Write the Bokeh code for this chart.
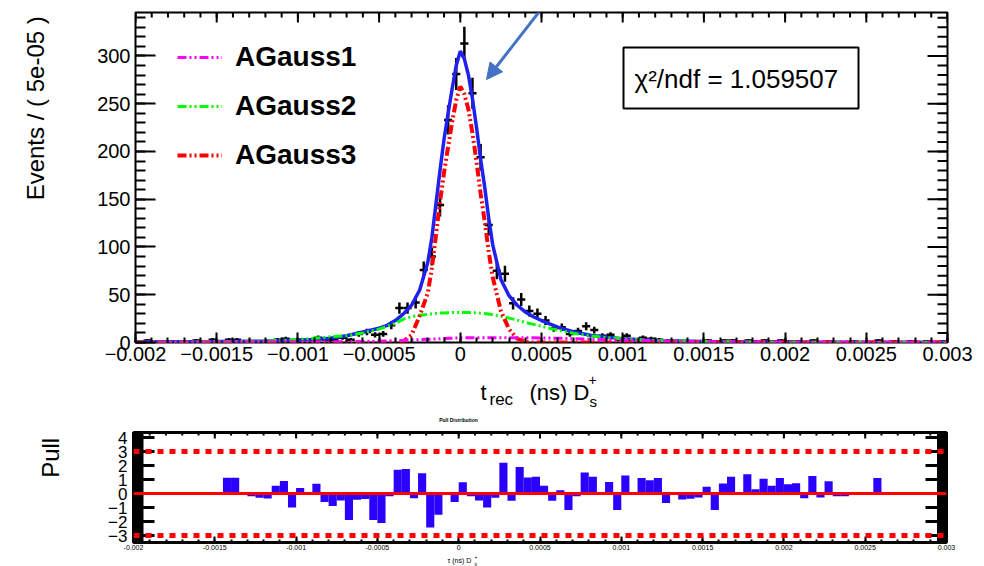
import math
from bokeh.plotting import figure
from bokeh.models import (Range1d, LinearAxis, FixedTicker, Label, BoxAnnotation,
                          Arrow, NormalHead, Span, Legend, LegendItem)
from bokeh.layouts import column, row
from bokeh.embed import file_html
from bokeh.resources import INLINE

FONT = "Liberation Sans"

# ---------------- data ----------------
bin_low = -0.002
bin_width = 5e-05

counts = [0, 2, 0, 1, 0, 1, 1, 2, 0, 3, 1,
          3, 3, 1, 1, 1, 1, 3, 4, 1, 3, 3, 5, 3, 3, 5, 3, 9, 11, 8, 9, 18, 36, 36, 42, 76, 90, 144, 233, 281,
          313, 261, 194, 123, 75, 72, 41, 45, 33, 30, 23, 15, 16, 9, 12, 17, 13, 7, 8, 3, 7, 3, 5, 4, 3, 1,
          1, 1, 1, 1, 2, 0, 2, 2, 1, 2, 1, 2, 1, 2, 1, 1, 0, 2, 0, 1, 0, 0, 1, 0, 0, 2,
          0, 1, 0, 1, 0, 1, 0, 1]

pulls = [0, 0, 0, 0, 0, 0, 0, 0, 0, 0, 0,
         1.12, 1.12, 0, -0.2, -0.3, -0.35, 0.55, 0.9, -1.0, 0.4, 0, 0.7, -0.6, -0.9, -0.5, -1.9, -0.45,
         -0.4, -1.9, -2.1, -0.2, 1.7, 1.76, -0.33, 1.45, -2.43, -1.52, 0, -0.6,
         0.8, -0.2, -0.5, -1.0, -0.3, 2.2, -0.52, 1.9, 1.14, 1.2, 0.55, -0.52, 0.24, -1.17, -0.2, 1.5,
         1.2, 0, 0.83, -1.17, 1.29, 0, 1.1, 0.95, 1.1, -0.67, 0, -0.43, -0.38, -0.29, 0.48, -1.17, 0.71,
         1.2, 0, 1.38, 0.31, 1.05, 0.55, 1.1, 0.67, 0.74, -0.33, 1.26, -0.29, 0.88, -0.19, -0.19, 0, 0,
         0, 1.1,
         0, 0, 0, 0, 0, 0, 0, 0]

# fit curves, x in units of 1e-4 ns
fit_x_e4 = [-20, -15, -12, -10, -9, -8, -7, -6, -5, -4.5, -4, -3.5, -3, -2.5, -2, -1.75, -1.5, -1.25,
            -1, -0.75, -0.5, -0.25, 0, 0.25, 0.5, 0.75, 1, 1.25, 1.5, 1.75, 2, 2.5, 3, 3.5, 4, 4.5,
            5, 6, 7, 8, 9, 10, 12, 15, 20, 25, 30]
total_fit = [0.5, 1, 1.5, 2.5, 3, 4.5, 7, 11, 15, 18, 23, 30, 39, 55, 84, 110, 145, 180,
             213, 240, 266, 290, 305, 297, 280, 255, 225, 192, 163, 130, 102, 66, 49, 39, 32, 27,
             23, 16, 11, 7.5, 5.5, 4, 2, 1, 0.5, 0.3, 0.2]
agauss1 = [0, 0.1, 0.2, 0.3, 0.4, 0.5, 0.7, 1, 1.3, 1.6, 2, 2.3, 2.7, 3, 3.4, 3.6, 3.8, 4,
           4.2, 4.4, 4.5, 4.7, 4.8, 4.9, 5, 5, 5, 5, 5, 5, 5, 5, 5, 5, 5, 4.9,
           4.8, 4.5, 4, 3.5, 3, 2.5, 1.6, 0.8, 0.3, 0.1, 0]
agauss2 = [0.3, 0.8, 1.5, 3, 4.5, 6, 7, 10, 14, 17, 20, 24.5, 27, 28.5, 29.5, 30, 30.5, 30.8,
           31, 31.2, 31.4, 31.5, 31.5, 31.5, 31.4, 31.2, 31, 30.7, 30.3, 29.8, 29, 27.5, 25.5, 23.5, 21, 19,
           17, 13, 9.5, 7, 5, 4, 2, 1, 0.3, 0.1, 0]
agauss3 = [0, 0, 0, 0, 0, 0, 0, 0, 0, 0, 0, 1, 8, 28, 52, 78, 112, 147,
           178, 205, 231, 254, 268, 260, 244, 219, 189, 156, 127, 95, 68, 33, 14, 4, 0.5, 0,
           0, 0, 0, 0, 0, 0, 0, 0, 0, 0, 0]

legend_names = ["AGauss1", "AGauss2", "AGauss3"]
chi2_text = "χ²/ndf = 1.059507"
y_title = "Events / ( 5e-05 )"
pull_y_title = "Pull"
pull_title = "Pull Distribution"

x_ticks = [-0.002, -0.0015, -0.001, -0.0005, 0, 0.0005, 0.001, 0.0015, 0.002, 0.0025, 0.003]
x_tick_labels = ["\u22120.002", "\u22120.0015", "\u22120.001", "\u22120.0005", "0", "0.0005",
                 "0.001", "0.0015", "0.002", "0.0025", "0.003"]
pull_x_tick_labels = ["-0.002", "-0.0015", "-0.001", "-0.0005", "0", "0.0005",
                      "0.001", "0.0015", "0.002", "0.0025", "0.003"]
y_ticks = [0, 50, 100, 150, 200, 250, 300]
pull_ticks = [-3, -2, -1, 0, 1, 2, 3, 4]
pull_tick_labels = ["\u22123", "\u22122", "\u22121", "0", "1", "2", "3", "4"]

# ---------------- page geometry (pixels) ----------------
W = 984
SIDE = 80                      # width of the strip holding the vertical titles
ROW1_H = 372                   # top plot row: y 0..372
XT1_H = 38                     # x title strip: y 372..410
PT_H = 17                      # pull title strip: y 410..427
ROW2_H = 126                   # pull row: y 427..553
XT2_H = 13                     # pull x title strip: y 553..566

L1, R1, T1, B1 = 135, 947, 12, 342
Y1MAX = 345.5
L2, R2, T2, B2 = 133, 946, 432, 542
Y2MIN, Y2MAX = -3.5, 4.36
ROW2_Y0 = ROW1_H + XT1_H + PT_H


def tx(px):
    return -0.002 + (px - L1) / (R1 - L1) * 0.005


def ty(py):
    return (B1 - py) / (B1 - T1) * Y1MAX


def bx(px):
    return -0.002 + (px - L2) / (R2 - L2) * 0.005


def text_fig(w, h):
    f = figure(width=w, height=h, x_range=Range1d(0, w), y_range=Range1d(h, 0),
               output_backend="svg", toolbar_location=None, x_axis_type=None, y_axis_type=None,
               min_border_left=0, min_border_right=0, min_border_top=0, min_border_bottom=0,
               title=None)
    f.outline_line_color = None
    return f


def txt(f, x, y, text, size, **kw):
    f.add_layout(Label(x=x, y=y, text=text, text_font=FONT, text_font_size=size,
                       text_color="black", **kw))


minor_x = [-0.002 + i * 0.0001 for i in range(51)]
minor_y = [i * 10 for i in range(35)]


def style_axis(ax, tin, minin, labsize):
    ax.major_tick_in = tin
    ax.major_tick_out = 0
    ax.minor_tick_in = minin
    ax.minor_tick_out = 0
    ax.major_tick_line_color = "black"
    ax.minor_tick_line_color = "black"
    ax.major_tick_line_width = 2
    ax.minor_tick_line_width = 2
    ax.axis_line_color = None
    ax.major_label_text_font = FONT
    ax.major_label_text_font_size = labsize
    ax.major_label_text_color = "black"


# ---------------- top figure ----------------
top = figure(width=W - SIDE, height=ROW1_H, x_range=Range1d(-0.002, 0.003),
             y_range=Range1d(0, Y1MAX), title=None,
             output_backend="svg", toolbar_location=None, x_axis_type=None, y_axis_type=None,
             min_border_left=L1 - SIDE, min_border_right=W - R1, min_border_top=T1,
             min_border_bottom=ROW1_H - B1)
top.outline_line_color = "black"
top.outline_line_width = 2
top.outline_line_alpha = 1

xb = LinearAxis(ticker=FixedTicker(ticks=x_ticks, minor_ticks=minor_x),
                major_label_overrides=dict(zip(x_ticks, x_tick_labels)))
style_axis(xb, 10, 5, "20px")
xb.major_label_standoff = 4
top.add_layout(xb, "below")

yl = LinearAxis(ticker=FixedTicker(ticks=y_ticks, minor_ticks=minor_y))
style_axis(yl, 20, 10, "20px")
yl.major_label_standoff = 5
top.add_layout(yl, "left")

# ticks on the top and right edges of the frame
dy1 = Y1MAX / (B1 - T1)
dx1 = 0.005 / (R1 - L1)
top.segment(x0=x_ticks, y0=Y1MAX, x1=x_ticks, y1=Y1MAX - 10 * dy1, line_color="black", line_width=2)
top.segment(x0=minor_x, y0=Y1MAX, x1=minor_x, y1=Y1MAX - 5 * dy1, line_color="black", line_width=2)
top.segment(x0=0.003, y0=y_ticks, x1=0.003 - 20 * dx1, y1=y_ticks, line_color="black", line_width=2)
top.segment(x0=0.003, y0=minor_y, x1=0.003 - 10 * dx1, y1=minor_y, line_color="black", line_width=2)

# data points
centers = [bin_low + (i + 0.5) * bin_width for i in range(len(counts))]
errs = [math.sqrt(n) for n in counts]
lo = [max(n - e, 0) for n, e in zip(counts, errs)]
hi = [n + e if n > 0 else 1.15 for n, e in zip(counts, errs)]
top.segment(x0=[c - bin_width / 2 for c in centers], y0=counts,
            x1=[c + bin_width / 2 for c in centers], y1=counts, line_color="black", line_width=2.5)
top.segment(x0=centers, y0=lo, x1=centers, y1=hi, line_color="black", line_width=2.5)

fx = [v * 1e-4 for v in fit_x_e4]
DASH = "9 3 2 3 2 3"
top.line(fx, total_fit, line_color="#2020f0", line_width=3.5)
r2 = top.line(fx, agauss2, line_color="#00ff00", line_width=3, line_dash=DASH)
r3 = top.line(fx, agauss3, line_color="#ff0000", line_width=4, line_dash=DASH)
r1 = top.line(fx, agauss1, line_color="#ff00ff", line_width=3, line_dash=DASH)

legend = Legend(items=[LegendItem(label=legend_names[0], renderers=[r1]),
                       LegendItem(label=legend_names[1], renderers=[r2]),
                       LegendItem(label=legend_names[2], renderers=[r3])],
                location=(42, 171), orientation="vertical",
                border_line_color=None, background_fill_alpha=0,
                label_text_font=FONT, label_text_font_size="28px", label_text_font_style="bold",
                label_text_color="black",
                glyph_width=45, glyph_height=28, label_height=28, label_standoff=13,
                spacing=17, padding=0, margin=0)
top.add_layout(legend)

# chi2 box
top.add_layout(BoxAnnotation(left=tx(623), right=tx(858), top=ty(47), bottom=ty(108),
                             fill_color="white", fill_alpha=1, line_color="black", line_alpha=1,
                             line_width=2))
top.add_layout(Label(x=tx(634), y=ty(78), text=chi2_text, text_font=FONT, text_font_size="26px",
                     text_baseline="middle", text_color="black"))

# arrow
top.add_layout(Arrow(x_start=tx(549), y_start=ty(-2), x_end=tx(486), y_end=ty(79),
                     line_color="#4472c4", line_width=3,
                     end=NormalHead(size=16, fill_color="#4472c4", line_color="#4472c4")))

# y title strip for the top plot
yt1 = text_fig(SIDE, ROW1_H)
txt(yt1, 35, 108, y_title, "24px", angle=math.pi / 2, text_align="center", text_baseline="middle")

# x title strip for the top plot (page y 372..410)
xt1 = text_fig(W, XT1_H)
y0 = ROW1_H
txt(xt1, 480, 392 - y0, "t", "22px", text_baseline="alphabetic")
txt(xt1, 489, 399 - y0, "rec", "17px", text_baseline="alphabetic")
txt(xt1, 529, 392 - y0, "(ns) D", "22px", text_baseline="alphabetic")
txt(xt1, 588, 379 - y0, "+", "14px", text_baseline="alphabetic")
txt(xt1, 589, 401 - y0, "s", "15px", text_baseline="alphabetic")

# pull title strip (page y 410..427)
pt = text_fig(W, PT_H)
txt(pt, 458, 419 - (ROW1_H + XT1_H), pull_title, "5px", text_font_style="bold",
    text_align="center", text_baseline="middle")

# ---------------- pull figure ----------------
bot = figure(width=W - SIDE, height=ROW2_H, x_range=Range1d(-0.002, 0.003),
             y_range=Range1d(Y2MIN, Y2MAX), title=None,
             output_backend="svg", toolbar_location=None, x_axis_type=None, y_axis_type=None,
             min_border_left=L2 - SIDE, min_border_right=W - R2, min_border_top=T2 - ROW2_Y0,
             min_border_bottom=ROW2_Y0 + ROW2_H - B2)
bot.outline_line_color = "black"
bot.outline_line_width = 3
bot.outline_line_alpha = 1

pb = LinearAxis(ticker=FixedTicker(ticks=x_ticks, minor_ticks=minor_x),
                major_label_overrides=dict(zip(x_ticks, pull_x_tick_labels)))
style_axis(pb, 6, 3, "7px")
pb.major_label_standoff = 2
bot.add_layout(pb, "below")

pl = LinearAxis(ticker=FixedTicker(ticks=pull_ticks, minor_ticks=[]),
                major_label_overrides=dict(zip(pull_ticks, pull_tick_labels)))
style_axis(pl, 21, 0, "17px")
pl.major_tick_line_width = 3
pl.major_label_standoff = 6
bot.add_layout(pl, "left")

dy2 = (Y2MAX - Y2MIN) / (B2 - T2)
dx2 = 0.005 / (R2 - L2)
bot.segment(x0=x_ticks, y0=Y2MAX, x1=x_ticks, y1=Y2MAX - 6 * dy2, line_color="black", line_width=2)
bot.segment(x0=minor_x, y0=Y2MAX, x1=minor_x, y1=Y2MAX - 3 * dy2, line_color="black", line_width=2)

# dark side bands of the pull frame
bot.add_layout(BoxAnnotation(left=-0.002, right=bx(143), fill_color="black", fill_alpha=1,
                             line_color=None))
bot.add_layout(BoxAnnotation(left=bx(936.5), right=0.003, fill_color="black", fill_alpha=1,
                             line_color=None))
bot.segment(x0=0.003, y0=pull_ticks, x1=0.003 - 21 * dx2, y1=pull_ticks, line_color="black",
            line_width=3)

bot.vbar(x=centers, width=bin_width, top=pulls, bottom=0, fill_color="#2a00ff", line_color=None)

bot.add_layout(Span(location=0, dimension="width", line_color="#ff0000", line_width=3))
bot.add_layout(Span(location=3, dimension="width", line_color="#ff0000", line_width=5,
                    line_dash="6 6"))
bot.add_layout(Span(location=-3, dimension="width", line_color="#ff0000", line_width=5,
                    line_dash="6 6"))

yt2 = text_fig(SIDE, ROW2_H)
txt(yt2, 50, 456 - ROW2_Y0, pull_y_title, "24px", angle=math.pi / 2, text_align="center",
    text_baseline="middle")

# pull x title strip (page y 553..566)
xt2 = text_fig(W, XT2_H)
y2 = ROW2_Y0 + ROW2_H
txt(xt2, 447, 560 - y2, "\u03c4 (ns) D", "7px", text_baseline="alphabetic")
txt(xt2, 474, 556 - y2, "+", "5px", text_baseline="alphabetic")
txt(xt2, 474, 563 - y2, "s", "5px", text_baseline="alphabetic")

layout = column(row(yt1, top, spacing=0), xt1, pt, row(yt2, bot, spacing=0), xt2, spacing=0)
open("out.html", "w").write(file_html(layout, INLINE))
